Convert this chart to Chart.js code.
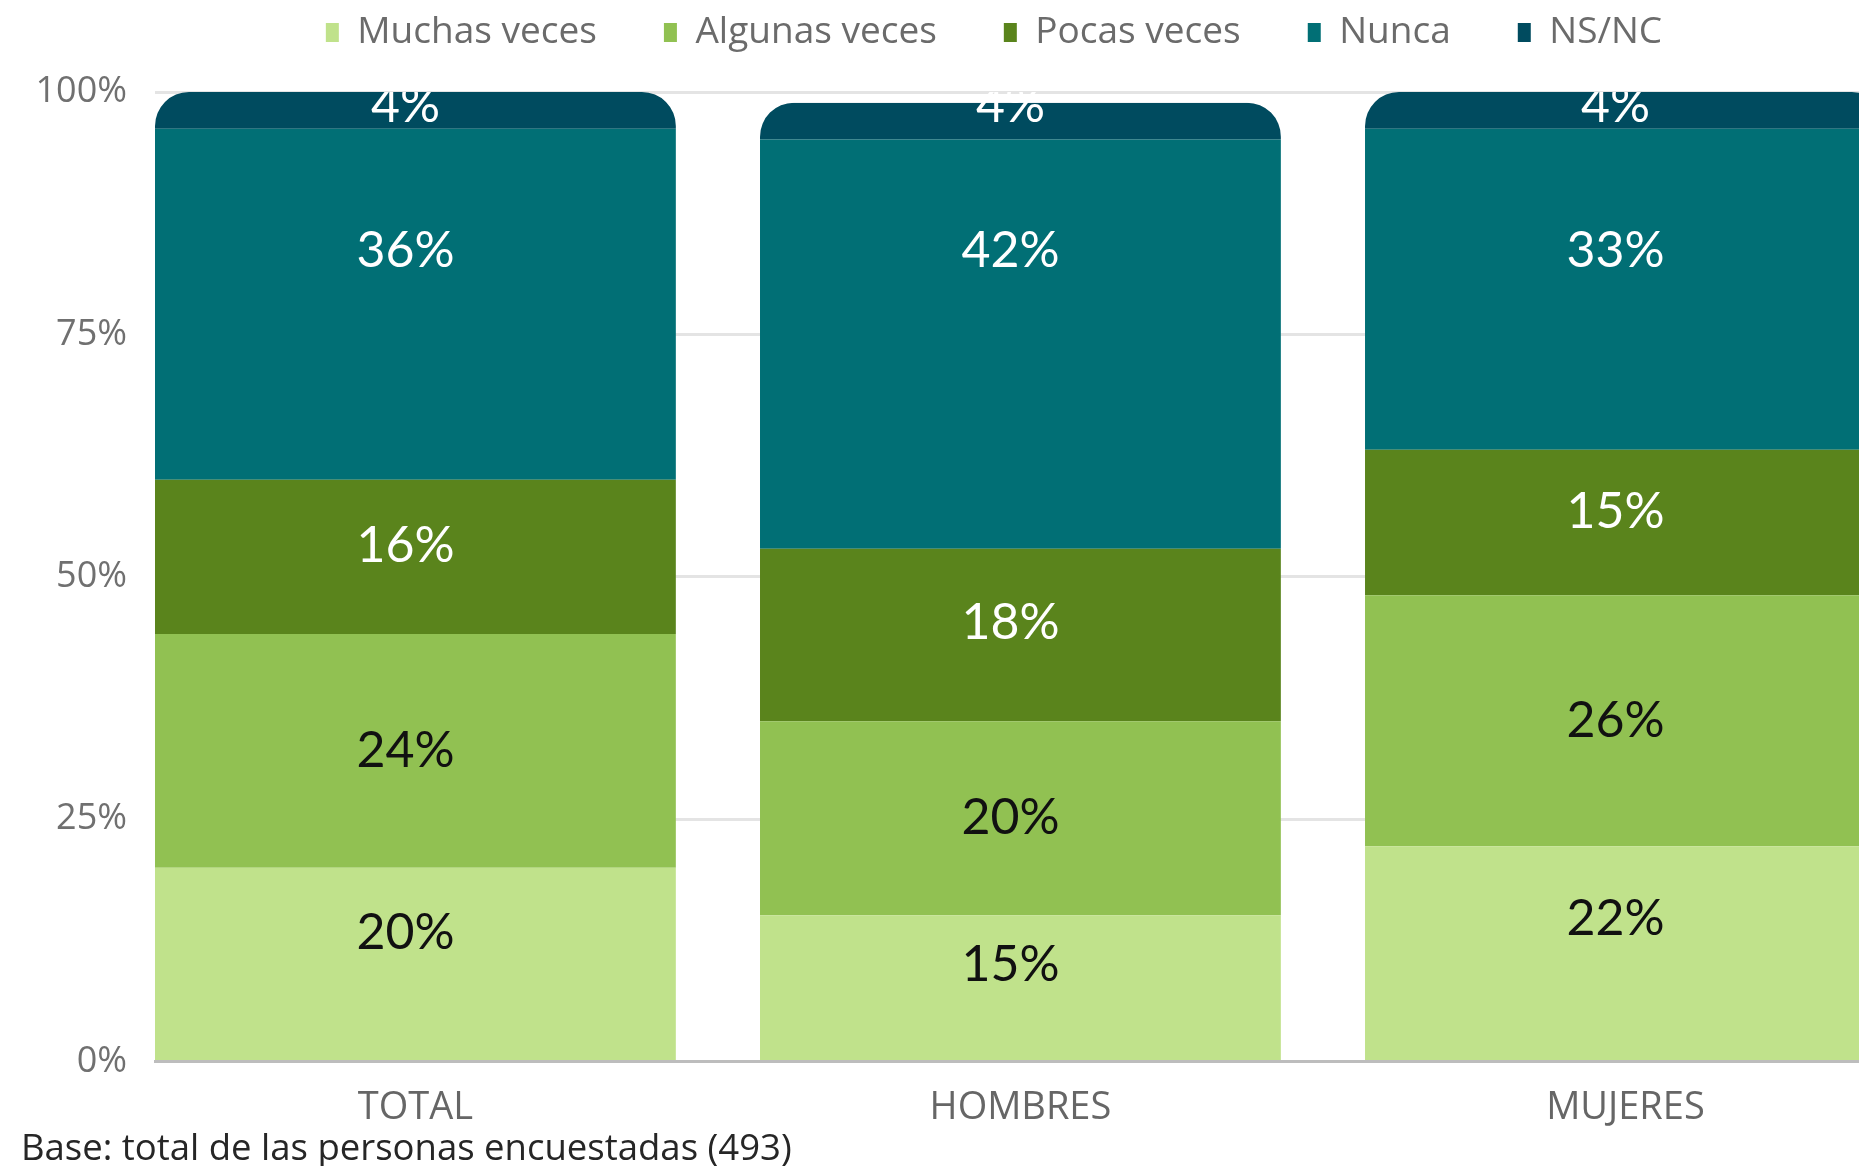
<!DOCTYPE html>
<html lang="es">
<head>
<meta charset="utf-8">
<title>Frecuencia por sexo</title>
<script src="https://cdn.jsdelivr.net/npm/chart.js@4.4.1/dist/chart.umd.min.js"></script>
<style>
  html, body { margin: 0; padding: 0; background: #fff; overflow: hidden; }
  #wrap { width: 1967px; height: 1166px; }
</style>
</head>
<body>
<div id="wrap"><canvas id="grafico" width="1967" height="1166"></canvas></div>
<script>
// Datos (porcentajes)
const grupos = ['TOTAL', 'HOMBRES', 'MUJERES'];
const respuestas = ['Muchas veces', 'Algunas veces', 'Pocas veces', 'Nunca', 'NS/NC'];
const muchasVeces = [20.0, 15.1, 22.2];
const algunasVeces = [24.1, 20.0, 25.9];
const pocasVeces = [15.9, 17.8, 15.0];
const nunca = [36.2, 42.2, 33.1];
const nsnc = [3.8, 3.8, 3.8];
const ticksY = [0, 25, 50, 75, 100];
const fuente = 'Base: total de las personas encuestadas (493)';

// Estilo
const colores = ['#c0e28b', '#91c152', '#5a841c', '#016f75', '#004b5f'];
const colorTexto = ['#111111', '#111111', '#ffffff', '#ffffff', '#ffffff'];
// posición de la etiqueta: fracción del segmento (f) o valor fijo del eje (v)
const posEtiqueta = [{ f: 0.66 }, { f: 0.5 }, { f: 0.57 }, { v: 83.6 }, { v: 98.6 }];
const fuenteTexto = "'Open Sans', 'DejaVu Sans', sans-serif";

const series = [muchasVeces, algunasVeces, pocasVeces, nunca, nsnc];
const datasets = series.map((valores, i) => ({
    label: respuestas[i],
    data: valores.map((v, j) => ({ x: j, y: v })),
    backgroundColor: colores[i],
    borderWidth: 0,
    categoryPercentage: 1,
    barPercentage: 0.861,
}));

// Esquinas superiores redondeadas para cada columna apilada
const esquinas = {
    id: 'esquinas',
    beforeDatasetsDraw(chart) {
        const ctx = chart.ctx;
        const primera = chart.getDatasetMeta(0).data;
        const ultima = chart.getDatasetMeta(chart.data.datasets.length - 1).data;
        ctx.save();
        ctx.beginPath();
        primera.forEach((barra, i) => {
            const arriba = ultima[i].y;
            const izq = barra.x - barra.width / 2;
            ctx.roundRect(izq, arriba, barra.width, barra.base - arriba, [34, 34, 0, 0]);
        });
        ctx.clip();
    },
    afterDatasetsDraw(chart) {
        chart.ctx.restore();
    },
};

// Etiquetas con el porcentaje dentro de cada segmento
const etiquetas = {
    id: 'etiquetas',
    afterDatasetsDraw(chart) {
        const ctx = chart.ctx;
        const area = chart.chartArea;
        const escalaY = chart.scales.y;
        ctx.save();
        ctx.beginPath();
        ctx.rect(area.left, area.top, area.right - area.left, area.bottom - area.top);
        ctx.clip();
        ctx.font = "50px Lato, 'Open Sans', sans-serif";
        ctx.textAlign = 'center';
        ctx.textBaseline = 'middle';
        chart.data.datasets.forEach((ds, i) => {
            const pos = posEtiqueta[i];
            chart.getDatasetMeta(i).data.forEach((barra, j) => {
                const y = pos.v !== undefined
                    ? escalaY.getPixelForValue(pos.v)
                    : barra.base + (barra.y - barra.base) * pos.f;
                ctx.fillStyle = colorTexto[i];
                ctx.fillText(Math.round(ds.data[j].y) + '%', barra.x - 10, y);
            });
        });
        ctx.restore();
    },
};

// Deja más aire entre la leyenda y el área del gráfico
const separacionLeyenda = {
    id: 'separacionLeyenda',
    beforeLayout(chart) {
        const leyenda = chart.legend;
        if (leyenda && !leyenda._ajustada) {
            const fit = leyenda.fit;
            leyenda.fit = function () {
                fit.call(this);
                this.height += 31;
            };
            leyenda._ajustada = true;
        }
    },
};

const ctx = document.getElementById('grafico').getContext('2d');
const grafico = new Chart(ctx, {
    type: 'bar',
    data: { datasets: datasets },
    plugins: [esquinas, etiquetas, separacionLeyenda],
    options: {
        responsive: false,
        animation: false,
        layout: { padding: { top: -53, left: 21, right: 0, bottom: 0 } },
        plugins: {
            legend: {
                position: 'top',
                labels: {
                    boxWidth: 13,
                    boxHeight: 19,
                    padding: 67,
                    color: '#6b6b6b',
                    font: { family: fuenteTexto, size: 37 },
                },
            },
            title: {
                display: true,
                position: 'bottom',
                align: 'start',
                text: fuente,
                color: '#262626',
                padding: 0,
                font: { family: fuenteTexto, size: 36.5, weight: 'normal', lineHeight: 0.9 },
            },
            tooltip: { enabled: false },
        },
        scales: {
            x: {
                type: 'linear',
                stacked: true,
                offset: false,
                min: -0.4305,
                max: 2.5645,
                afterBuildTicks: (s) => { s.ticks = grupos.map((g, i) => ({ value: i })); },
                afterFit: (s) => { s.height = 71.6; },
                grid: { display: false, drawTicks: false },
                border: { display: true, color: '#bdbdbd', width: 3 },
                ticks: {
                    padding: 24,
                    color: '#666666',
                    font: { family: fuenteTexto, size: 38 },
                    callback: (v) => grupos[v],
                },
            },
            y: {
                stacked: true,
                min: 0,
                max: 100,
                afterFit: (s) => { s.width = 134; },
                afterBuildTicks: (s) => { s.ticks = ticksY.map((v) => ({ value: v })); },
                grid: { color: '#e4e4e4', lineWidth: 3, drawTicks: false },
                border: { display: false },
                ticks: {
                    padding: 28,
                    color: '#707070',
                    font: { family: fuenteTexto, size: 36 },
                    callback: (v) => v + '%',
                },
            },
        },
    },
});
</script>
</body>
</html>
